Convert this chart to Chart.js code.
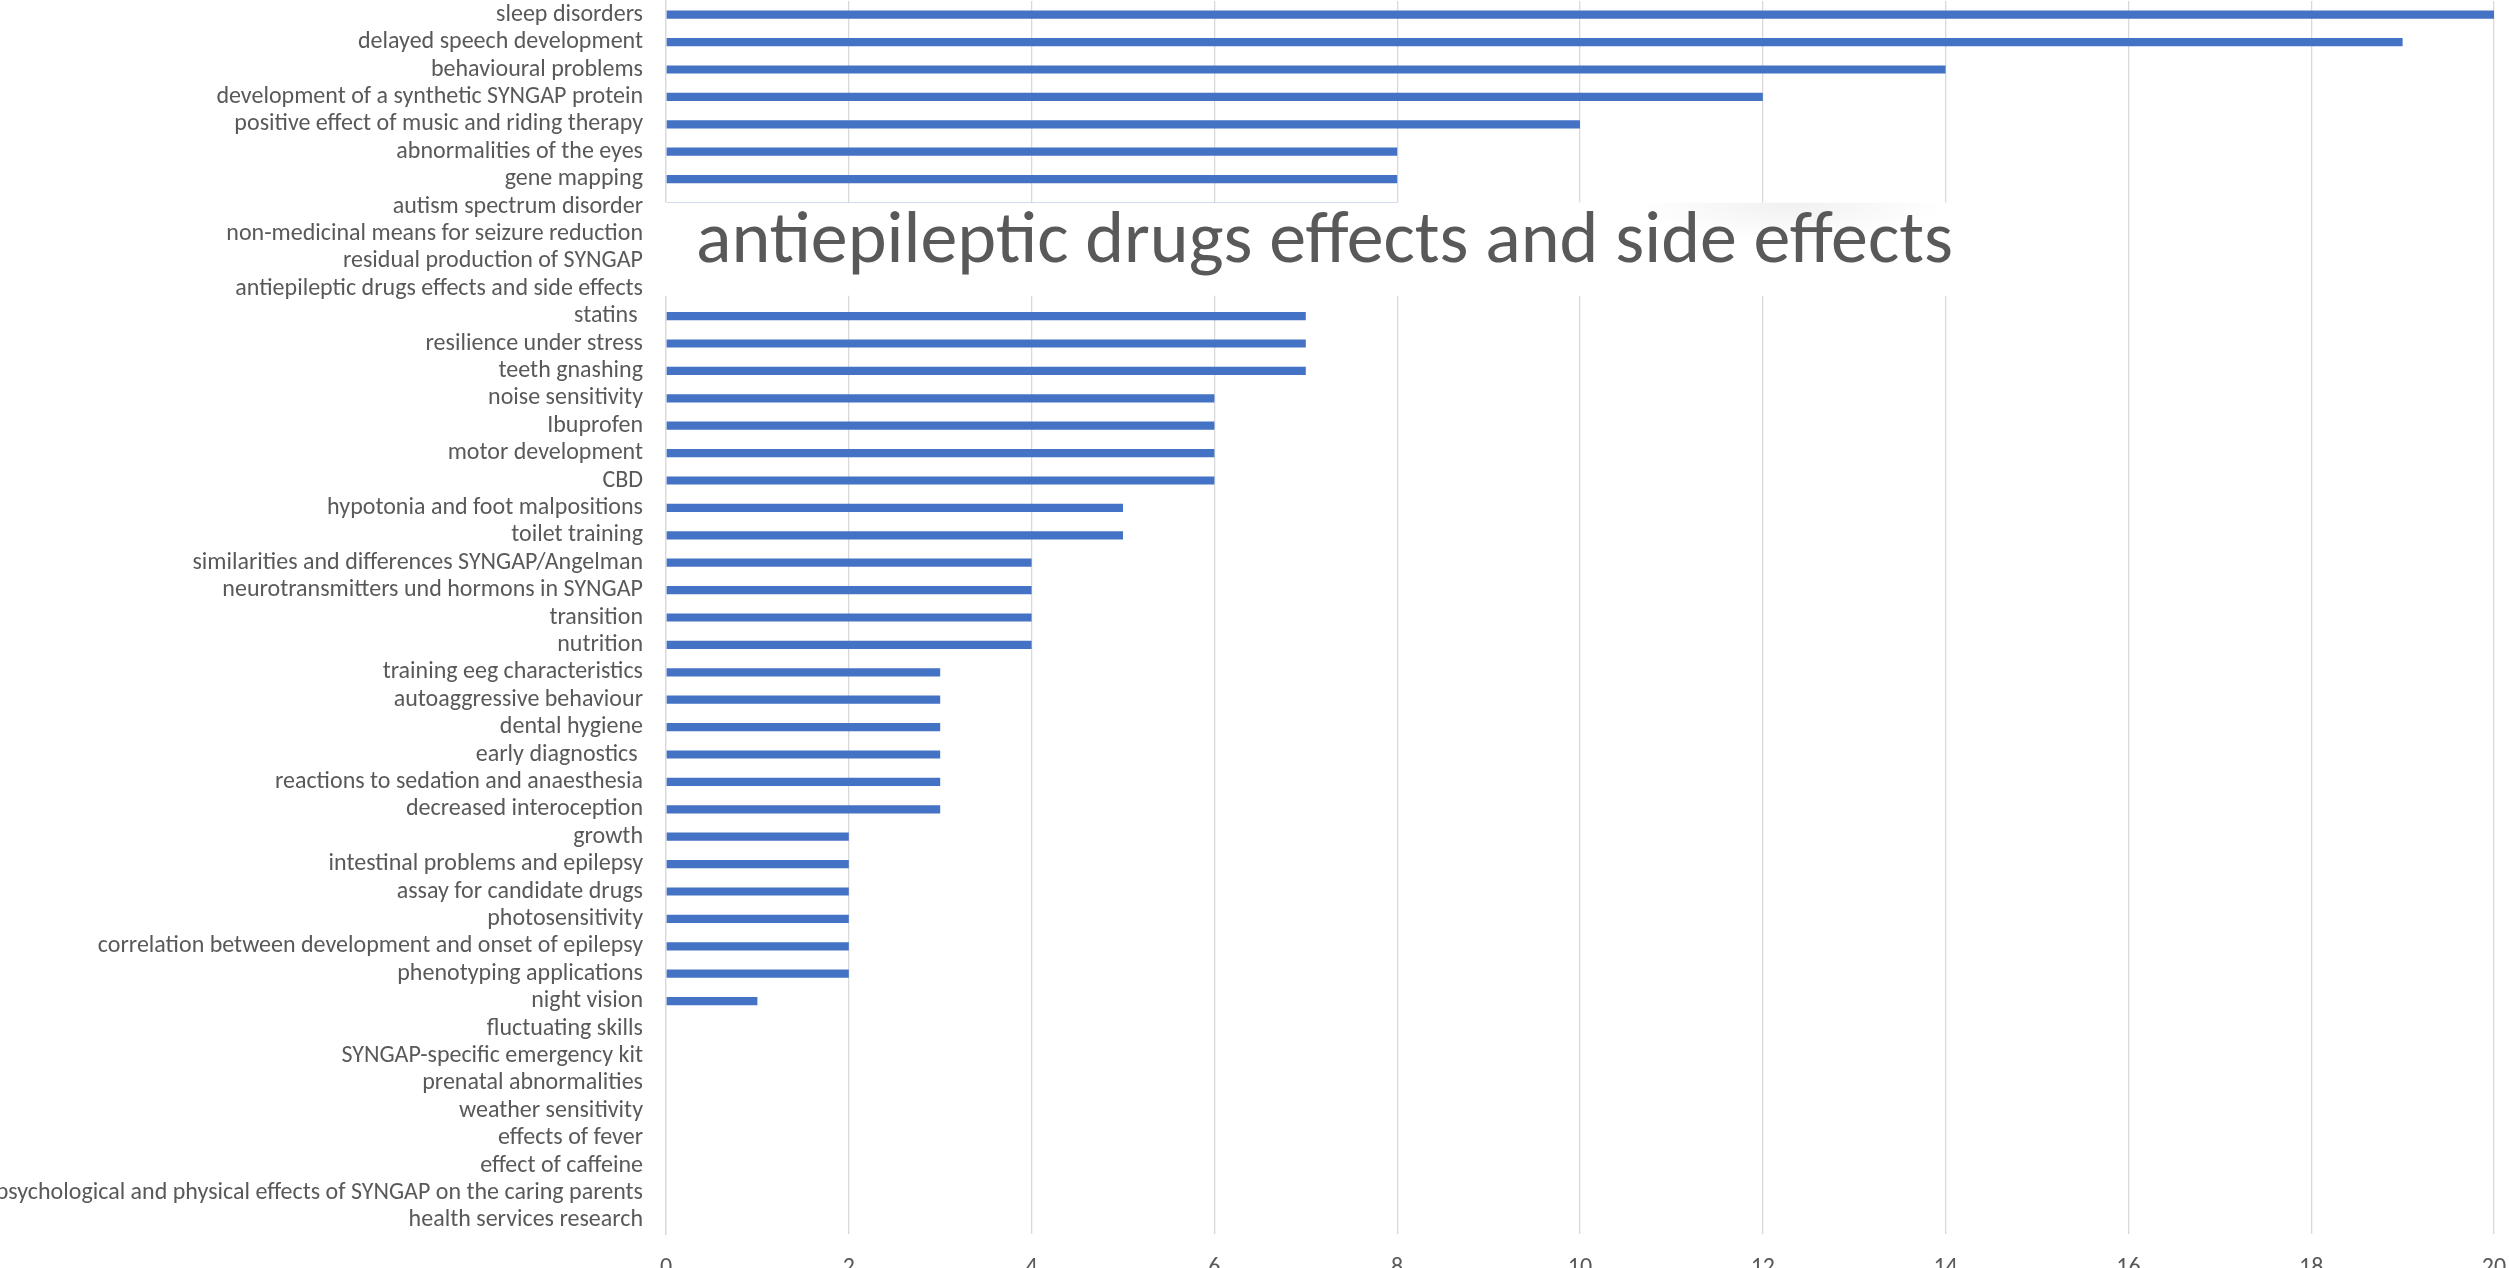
<!DOCTYPE html>
<html>
<head>
<meta charset="utf-8">
<script src="https://cdn.jsdelivr.net/npm/chart.js@4"></script>
<style>
	html, body { margin: 0; padding: 0; background: #fff; overflow: hidden; }
	#myChart { position: absolute; left: 0; top: 0; }
</style>
</head>
<body>
<canvas id="myChart" width="2530" height="1282"></canvas>
<script>
var categories = [
	'sleep disorders', 'delayed speech development', 'behavioural problems',
	'development of a synthetic SYNGAP protein', 'positive effect of music and riding therapy',
	'abnormalities of the eyes', 'gene mapping', 'autism spectrum disorder',
	'non-medicinal means for seizure reduction', 'residual production of SYNGAP',
	'antiepileptic drugs effects and side effects', 'statins ', 'resilience under stress',
	'teeth gnashing', 'noise sensitivity', 'Ibuprofen', 'motor development', 'CBD',
	'hypotonia and foot malpositions', 'toilet training',
	'similarities and differences SYNGAP/Angelman', 'neurotransmitters und hormons in SYNGAP',
	'transition', 'nutrition', 'training eeg characteristics', 'autoaggressive behaviour',
	'dental hygiene', 'early diagnostics ', 'reactions to sedation and anaesthesia',
	'decreased interoception', 'growth', 'intestinal problems and epilepsy',
	'assay for candidate drugs', 'photosensitivity',
	'correlation between development and onset of epilepsy', 'phenotyping applications',
	'night vision', 'fluctuating skills', 'SYNGAP-specific emergency kit',
	'prenatal abnormalities', 'weather sensitivity', 'effects of fever', 'effect of caffeine',
	'psychological and physical effects of SYNGAP on the caring parents',
	'health services research'
]
var counts = [20, 19, 14, 12, 10, 8, 8, 8, 8, 7, 7, 7, 7, 7, 6, 6, 6, 6, 5, 5, 4, 4, 4, 4,
	3, 3, 3, 3, 3, 3, 2, 2, 2, 2, 2, 2, 1, 0, 0, 0, 0, 0, 0, 0, 0]
var xTicks = [0, 2, 4, 6, 8, 10, 12, 14, 16, 18, 20]

// the hovered category (rows 7..10 are hidden behind the label box)
var hoverFirst = 7
var hoverLast = 10
var hoverLabel = categories[10]

var barColor = '#4472C4'
var textColor = '#595959'
var gridColor = '#d9d9d9'
var fontFamily = 'Carlito, Calibri, Lato, sans-serif'

var hoverBox = {
	id: 'hoverBox',
	afterDraw: function(chart) {
		var ctx = chart.ctx
		var x = chart.scales.x
		var y = chart.scales.y
		var top = y.getPixelForValue(hoverFirst) - 4
		var bottom = y.getPixelForValue(hoverLast) + 7
		var left = x.getPixelForValue(0) - 11
		var right = x.getPixelForValue(14) + 18
		ctx.save()
		ctx.fillStyle = '#fff'
		ctx.fillRect(left, top, right - left, bottom - top)
		// soft shade near the top right of the box
		var cx = x.getPixelForValue(12.3)
		var rx = x.getPixelForValue(14) - cx
		ctx.save()
		ctx.beginPath()
		ctx.rect(left, top, right - left, bottom - top)
		ctx.clip()
		ctx.translate(cx, top)
		ctx.scale(1, 0.25)
		var shade = ctx.createRadialGradient(0, 0, 0, 0, 0, rx)
		shade.addColorStop(0, 'rgba(0,0,0,0.06)')
		shade.addColorStop(1, 'rgba(0,0,0,0)')
		ctx.fillStyle = shade
		ctx.fillRect(-rx, 0, rx * 2, rx)
		ctx.restore()
		ctx.fillStyle = textColor
		ctx.font = '74px ' + fontFamily
		ctx.textBaseline = 'middle'
		ctx.fillText(hoverLabel, x.getPixelForValue(0) + 30, (top + bottom) / 2 - 6)
		ctx.restore()
	}
}

var ctx = document.getElementById('myChart')
var chart = new Chart(ctx, {
	type: 'bar',
	data: {
		labels: categories,
		datasets: [{
			data: counts,
			backgroundColor: barColor,
			categoryPercentage: 1,
			barPercentage: 0.3,
		}]
	},
	plugins: [hoverBox],
	options: {
		indexAxis: 'y',
		animation: false,
		responsive: false,
		devicePixelRatio: 1,
		layout: { padding: { top: 1, right: 36, left: 0, bottom: 0 } },
		plugins: { legend: { display: false }, tooltip: { enabled: false } },
		scales: {
			x: {
				min: 0,
				max: 20,
				afterBuildTicks: function(axis) {
					axis.ticks = xTicks.map(function(v) { return { value: v } })
				},
				afterFit: function(axis) {
					axis.height = 48
					axis.paddingLeft = 0
					axis.paddingRight = 0
				},
				grid: { color: gridColor, lineWidth: 1.3, drawTicks: false },
				border: { display: false },
				ticks: { color: textColor, padding: 20, font: { family: fontFamily, size: 24 } }
			},
			y: {
				afterFit: function(axis) {
					axis.width = 666
					axis.paddingTop = 0
					axis.paddingBottom = 0
				},
				grid: { display: false, drawTicks: false },
				border: { display: true, color: gridColor, width: 1.3 },
				ticks: { color: textColor, padding: 23, autoSkip: false, font: { family: fontFamily, size: 24 } }
			}
		}
	}
})
</script>
</body>
</html>
